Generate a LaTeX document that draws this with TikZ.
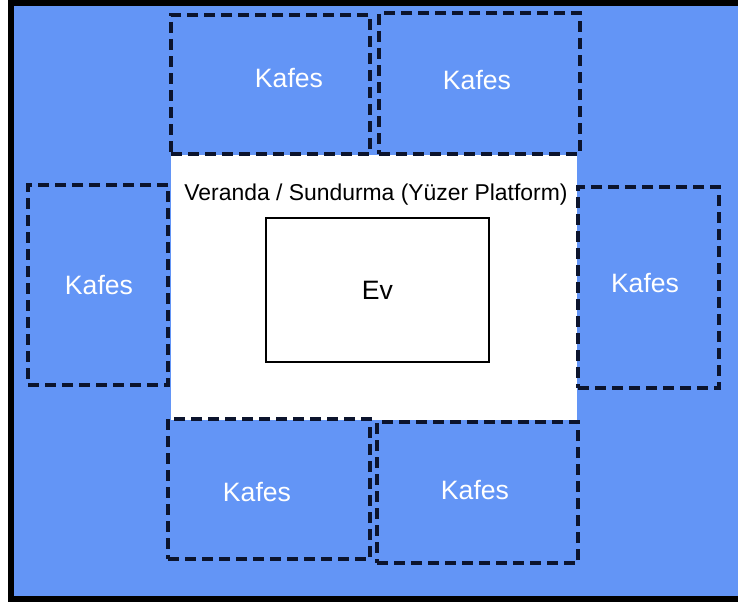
\documentclass[tikz,border=0pt]{standalone}
\usepackage{fontspec}
\setmainfont{Liberation Sans}
\definecolor{suMavi}{RGB}{99,149,246}
\definecolor{kafesCizgi}{RGB}{12,20,45}

\begin{document}
\begin{tikzpicture}[x=1pt, y=-1pt, every node/.style={outer sep=0pt, inner sep=0pt},
  kafes/.style={draw=kafesCizgi, line width=3.2pt, dash pattern=on 11pt off 6pt},
  kafesyazi/.style={text=white, font=\fontsize{26.6}{30}\selectfont}]
\useasboundingbox (0,0) rectangle (738,602);
\draw[line width=6pt, fill=suMavi] (11,3) rectangle (741,599);

\node[fill=white, minimum width=406pt, minimum height=265pt] (veranda) at (374,287.5) {};
\node[font=\fontsize{22.9}{26}\selectfont] (verandayazi) at (376,195) {Veranda / Sundurma (Yüzer Platform)};
\node[draw=black, fill=white, line width=2.2pt, minimum width=223pt, minimum height=144pt,
  font=\fontsize{26.6}{30}\selectfont] (ev) at (377.5,290) {Ev};

\node[kafes, minimum width=199pt, minimum height=139pt] (k1) at (270.5,84.5) {};
\node[kafes, minimum width=201pt, minimum height=141pt] (k2) at (479.5,83.5) {};
\node[kafes, minimum width=140pt, minimum height=200pt] (k3) at (98,285) {};
\node[kafes, minimum width=141pt, minimum height=201pt] (k4) at (648.5,287.5) {};
\node[kafes, minimum width=202pt, minimum height=140pt] (k5) at (269,489) {};
\node[kafes, minimum width=201pt, minimum height=141pt] (k6) at (477.5,492.5) {};

\node[kafesyazi] (y1) at (289,78) {Kafes};
\node[kafesyazi] (y2) at (477,80) {Kafes};
\node[kafesyazi] (y3) at (99,285) {Kafes};
\node[kafesyazi] (y4) at (645,283) {Kafes};
\node[kafesyazi] (y5) at (257,492) {Kafes};
\node[kafesyazi] (y6) at (475,490) {Kafes};
\end{tikzpicture}
\end{document}
